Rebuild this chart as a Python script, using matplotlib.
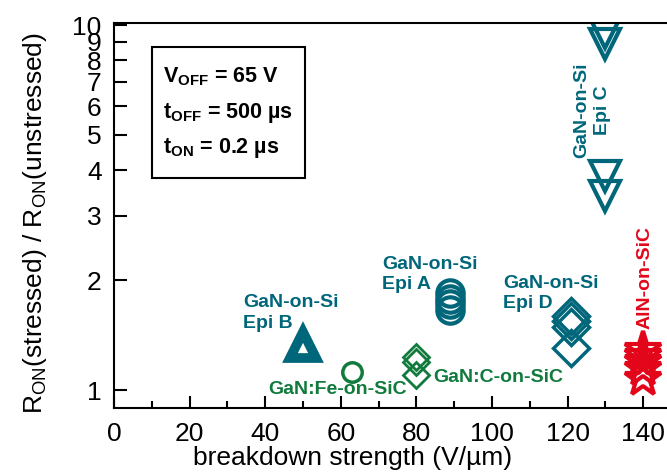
import matplotlib
matplotlib.use('Agg')
import matplotlib.pyplot as plt
from matplotlib.patches import Rectangle
from matplotlib.ticker import FixedLocator, MultipleLocator, NullLocator

plt.rcParams['font.family'] = ['Liberation Sans', 'DejaVu Sans']
plt.rcParams['mathtext.fontset'] = 'custom'
plt.rcParams['mathtext.rm'] = 'Liberation Sans'
plt.rcParams['mathtext.bf'] = 'Liberation Sans:bold'

TEAL = '#00677a'
GREEN = '#117a3d'
RED = '#e3061b'

# breakdown strength (V/um) and Ron ratio for each sample group
epi_b_x = [50]
epi_b_y = [1.33]
fe_sic_x = [63]
fe_sic_y = [1.12]
c_sic_x = [80, 80, 80]
c_sic_y = [1.23, 1.19, 1.10]
epi_a_x = [89, 89, 89, 89]
epi_a_y = [1.85, 1.78, 1.72, 1.66]
epi_d_x = [121, 121, 121, 121]
epi_d_y = [1.60, 1.55, 1.49, 1.30]
epi_c_x = [130, 130, 130, 130]
epi_c_y = [9.5, 8.9, 3.85, 3.40]
aln_x = [140, 140, 140, 140, 140]
aln_y = [1.29, 1.24, 1.19, 1.14, 1.07]

y_ticks = [1, 2, 3, 4, 5, 6, 7, 8, 9, 10]

fig = plt.figure(figsize=(6.67, 4.75), dpi=100)
# axes runs past the right edge of the picture, like the original crop
ax = fig.add_axes([114 / 667, 1 - 408 / 475, 567 / 667, 385 / 475])

ax.plot(epi_b_x, epi_b_y, '^', ms=19, mfc='none', mec=TEAL, mew=7)
ax.plot(fe_sic_x, fe_sic_y, 'o', ms=14, mfc='none', mec=GREEN, mew=2.5)
ax.plot(c_sic_x, c_sic_y, 'D', ms=13, mfc='none', mec=GREEN, mew=2)
ax.plot(epi_a_x, epi_a_y, 'o', ms=19, mfc='none', mec=TEAL, mew=3)
ax.plot(epi_d_x, epi_d_y, 'D', ms=18, mfc='none', mec=TEAL, mew=2.5)
ax.plot(epi_c_x, epi_c_y, 'v', ms=22, mfc='none', mec=TEAL, mew=3)
ax.plot(aln_x, aln_y, '*', ms=27, mfc='none', mec=RED, mew=3)

lab = dict(fontsize=14, fontweight='bold', linespacing=1.25)
ax.text(34.1, 1.625, 'GaN-on-Si\nEpi B', color=TEAL, ha='left', va='center', **lab)
ax.text(70.9, 2.07, 'GaN-on-Si\nEpi A', color=TEAL, ha='left', va='center', **lab)
ax.text(102.9, 1.84, 'GaN-on-Si\nEpi D', color=TEAL, ha='left', va='center', **lab)
ax.text(126.5, 5.85, 'GaN-on-Si\nEpi C', color=TEAL, ha='center', va='center',
        rotation=90, multialignment='center', **lab)
ax.text(140.5, 2.03, 'AlN-on-SiC', color=RED, ha='center', va='center', rotation=90, **lab)
ax.text(40.7, 1.005, 'GaN:Fe-on-SiC', color=GREEN, ha='left', va='center', **lab)
ax.text(84.4, 1.085, 'GaN:C-on-SiC', color=GREEN, ha='left', va='center', **lab)

# stress condition box
ax.add_patch(Rectangle(((152 - 114) / 567, 1 - (178 - 23) / 385), (305 - 152) / 567,
                       (178 - 47) / 385, transform=ax.transAxes, fc='white',
                       ec='black', lw=1.5, zorder=3))
box_lines = ['V$_\\mathbf{OFF}$ = 65 V', 't$_\\mathbf{OFF}$ = 500 µs', 't$_\\mathbf{ON}$ = 0.2 µs']
box_ypix = [77, 113, 148]
for txt, yp in zip(box_lines, box_ypix):
    ax.text((163 - 114) / 567, 1 - (yp - 23) / 385, txt, transform=ax.transAxes,
            ha='left', va='center', fontsize=15.5, fontweight='bold', zorder=4)

ax.set_yscale('log')
ax.set_xlim(0, 150)
ax.set_ylim(0.893, 10.13)
ax.yaxis.set_major_locator(FixedLocator(y_ticks))
ax.yaxis.set_minor_locator(NullLocator())
ax.set_yticklabels([str(t) for t in y_ticks])
ax.xaxis.set_major_locator(MultipleLocator(20))
ax.xaxis.set_minor_locator(MultipleLocator(10))

ax.tick_params(which='both', direction='in', labelsize=19, width=1.5)
ax.tick_params(which='major', length=9)
ax.tick_params(which='minor', length=5)
ax.tick_params(axis='x', pad=10)
ax.tick_params(axis='y', pad=9)
for s in ax.spines.values():
    s.set_linewidth(1.5)

ax.set_xlabel('breakdown strength (V/µm)', fontsize=19)
ax.xaxis.set_label_coords(0.42, -0.1)
ax.set_ylabel('R$_\\mathregular{ON}$(stressed) / R$_\\mathregular{ON}$(unstressed)', fontsize=19)
ax.yaxis.set_label_coords(-0.115, 0.48)

fig.savefig('out.png', dpi=100)
